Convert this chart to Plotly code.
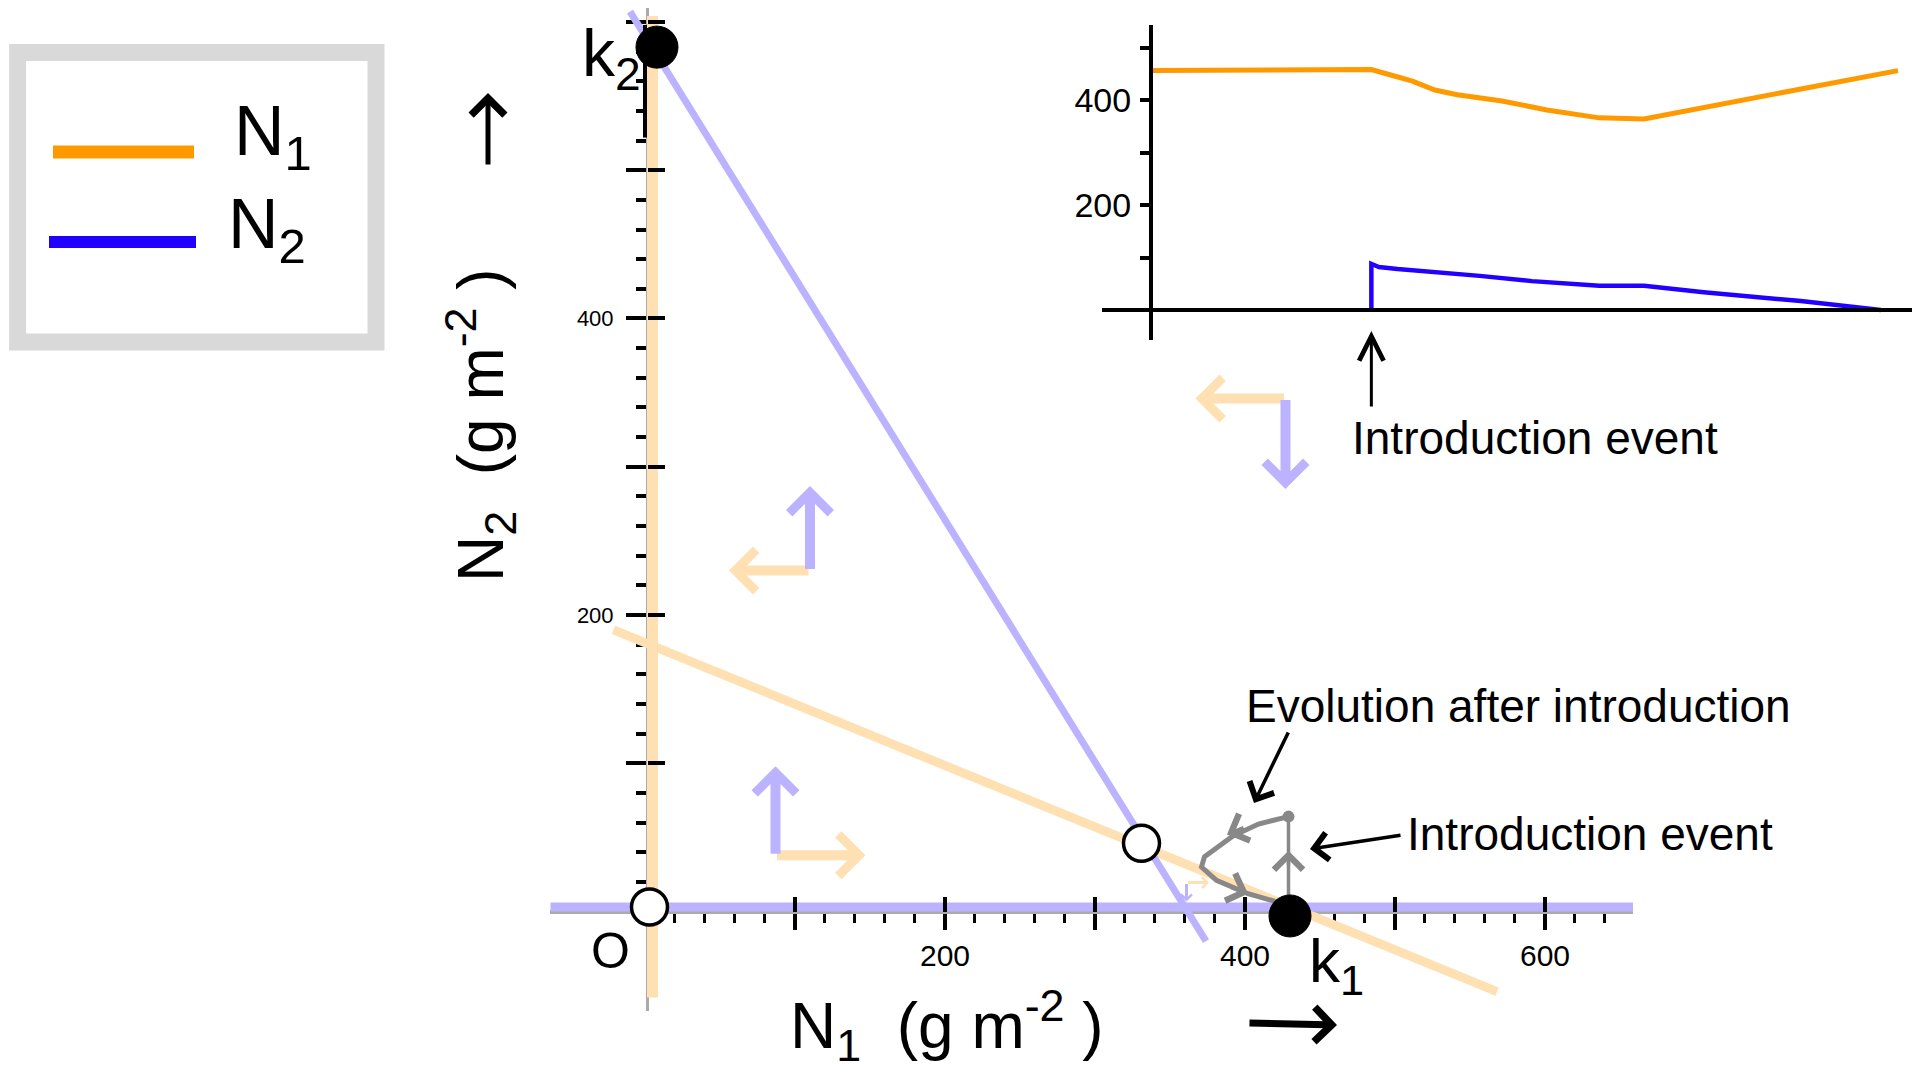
import plotly.graph_objects as go

W, H = 1920, 1080
DX, DY = -6, -5   # global pixel alignment offset

# ---------------- phase-plane data (g m^-2) ----------------
n1_zero_null_x = [5, 5]          # N1 = 0 nullcline (vertical)
n1_zero_null_y = [-58, 604]
n1_null_x = [-21, 568]           # N1 oblique nullcline
n1_null_y = [190, -54]
n2_zero_null_x = [-63, 659]      # N2 = 0 nullcline (horizontal)
n2_zero_null_y = [3, 3]
n2_null_x = [-10, 374]           # N2 oblique nullcline
n2_null_y = [607, -20]

unstable_eq_x = [3, 331]
unstable_eq_y = [3, 46]
stable_eq_x = [430, 8]           # k1, k2
stable_eq_y = [-3, 583]

intro_x = [429, 429]             # introduction event
intro_y = [3, 64]
evo_x = [429, 409, 392, 373, 371, 381, 402, 423]   # evolution after introduction
evo_y = [64, 59, 51, 37, 30, 21, 12, 6]

# direction arrows: corner, N1-direction tip (x), N2-direction tip (y)
dir_x = [110, 87, 427, 361]
dir_y = [230, 38, 346, 19.5]
dir_n1_tip = [56, 147, 367, 376]
dir_n2_tip = [287, 98, 285, 6.7]
dir_width = [10, 10, 10, 3]

# trajectory chevrons (tail -> tip)
chev_x0 = [429, 400, 390]
chev_y0 = [30, 57, 16.5]
chev_x1 = [429, 388, 402]
chev_y1 = [41, 52, 12]

x_major = [100, 200, 300, 400, 500, 600]
x_major_text = ["", "200", "", "400", "", "600"]
x_minor = [v for v in range(20, 661, 20) if v % 100]
y_major = [100, 200, 300, 400, 500, 600]
y_major_text = ["", "200", "", "400", "", ""]
y_minor = [v for v in range(20, 601, 20) if v % 100]

# ---------------- inset time series ----------------
t_n1 = [0, 29.5, 31.5, 35, 38, 41, 47, 53, 60, 66, 100]
n1_series = [456, 458, 450, 436, 419, 410, 398, 381, 366, 364, 456]
t_n2 = [29.5, 29.5, 30.5, 33, 44, 51, 60, 66, 74, 87, 97.7]
n2_series = [0, 88, 82, 78, 65, 55, 46, 46, 34, 17, 0]
t_intro = 29.5
inset_ticks = [100, 200, 300, 400, 500]
inset_tick_text = ["", "200", "", "400", ""]

ORANGE = "#FF9900"
BLUE = "#2200FF"
L_ORANGE = "#FFE0B3"
L_PURPLE = "#BBB3FF"
GRAY_AX = "#AAAAAA"
GRAY_TR = "#888888"
FONT = "Liberation Sans, Arial, sans-serif"


def fx(px):
    return (px + DX) / W


def fy(py):
    return 1 - (py + DY) / H


fig = go.Figure()

common = dict(mode="lines", hoverinfo="skip", showlegend=False)
fig.add_trace(go.Scatter(x=n1_zero_null_x, y=n1_zero_null_y, line=dict(color=L_ORANGE, width=11), **common))
fig.add_trace(go.Scatter(x=n1_null_x, y=n1_null_y, line=dict(color=L_ORANGE, width=9), **common))
fig.add_trace(go.Scatter(x=n2_null_x, y=n2_null_y, line=dict(color=L_PURPLE, width=7), **common))
fig.add_trace(go.Scatter(x=n2_zero_null_x, y=n2_zero_null_y, line=dict(color=L_PURPLE, width=9), **common))
fig.add_trace(go.Scatter(x=intro_x, y=intro_y, line=dict(color=GRAY_TR, width=3.5), **common))
fig.add_trace(go.Scatter(x=evo_x, y=evo_y, line=dict(color=GRAY_TR, width=5), **common))
fig.add_trace(go.Scatter(x=evo_x[:1], y=evo_y[:1], mode="markers", marker=dict(color=GRAY_TR, size=12),
                         hoverinfo="skip", showlegend=False))

# equilibria on overlay subplot (drawn on top)
fig.add_trace(go.Scatter(x=unstable_eq_x, y=unstable_eq_y, mode="markers", xaxis="x3", yaxis="y3",
                         marker=dict(color="white", size=36, line=dict(color="black", width=3.5)),
                         hoverinfo="skip", showlegend=False))
fig.add_trace(go.Scatter(x=stable_eq_x, y=stable_eq_y, mode="markers", xaxis="x3", yaxis="y3",
                         marker=dict(color="black", size=42, line=dict(color="black", width=1)),
                         hoverinfo="skip", showlegend=False))

# inset
fig.add_trace(go.Scatter(x=t_n1, y=n1_series, xaxis="x2", yaxis="y2", mode="lines",
                         line=dict(color=ORANGE, width=5), name="N1", showlegend=False, hoverinfo="skip"))
fig.add_trace(go.Scatter(x=t_n2, y=n2_series, xaxis="x2", yaxis="y2", mode="lines",
                         line=dict(color=BLUE, width=4.5), name="N2", showlegend=False, hoverinfo="skip"))

x_dom = [fx(548), fx(1631)]
x_rng = [-63.33, 658.67]
y_dom = [fy(1008), min(1.0, fy(0))]
y_rng = [-67.11, 609.40]
x_pos = fy(909)
y_pos = fx(645)

ann = []

# direction arrows
for i in range(len(dir_x)):
    w = dir_width[i]
    sz = 0.8 if w > 5 else 0.7
    ann.append(dict(x=dir_n1_tip[i], y=dir_y[i], ax=dir_x[i], ay=dir_y[i], xref="x", yref="y",
                    axref="x", ayref="y", text="", showarrow=True, arrowhead=4, arrowsize=sz,
                    arrowwidth=w, arrowcolor=L_ORANGE, standoff=0))
    ann.append(dict(x=dir_x[i], y=dir_n2_tip[i], ax=dir_x[i], ay=dir_y[i], xref="x", yref="y",
                    axref="x", ayref="y", text="", showarrow=True, arrowhead=4, arrowsize=sz,
                    arrowwidth=w, arrowcolor=L_PURPLE, standoff=0))
for i in range(len(chev_x0)):
    ann.append(dict(x=chev_x1[i], y=chev_y1[i], ax=chev_x0[i], ay=chev_y0[i], xref="x", yref="y",
                    axref="x", ayref="y", text="", showarrow=True, arrowhead=4, arrowsize=1.6,
                    arrowwidth=3.5, arrowcolor=GRAY_TR, standoff=0))

# axis arrows
ann.append(dict(x=fx(486), y=fy(90), ax=0, ay=73, xref="paper", yref="paper", text="", showarrow=True,
                arrowhead=4, arrowsize=1.3, arrowwidth=5, arrowcolor="black", standoff=0))
ann.append(dict(x=fx(1335), y=fy(1022), ax=-89, ay=-2, xref="paper", yref="paper", text="", showarrow=True,
                arrowhead=4, arrowsize=0.95, arrowwidth=7, arrowcolor="black", standoff=0))

# labelled arrows
ann.append(dict(x=fx(1308), y=fy(846), ax=92, ay=-14, xref="paper", yref="paper", text="", showarrow=True,
                arrowhead=4, arrowsize=1.5, arrowwidth=3.5, arrowcolor="black", standoff=0))
ann.append(dict(x=fx(1252), y=fy(800), ax=35, ay=-72, xref="paper", yref="paper", text="", showarrow=True,
                arrowhead=4, arrowsize=1.5, arrowwidth=3.5, arrowcolor="black", standoff=0))
ann.append(dict(x=t_intro, y=fy(328), ax=0, ay=77, xref="x2", yref="paper", text="", showarrow=True,
                arrowhead=5, arrowsize=1.6, arrowwidth=3, arrowcolor="black", standoff=0))


# texts
def txt(text, px, py, size, xanchor="left", angle=0, yanchor="middle"):
    ann.append(dict(x=fx(px), y=fy(py), xref="paper", yref="paper", text=text, showarrow=False,
                    xanchor=xanchor, yanchor=yanchor, textangle=angle,
                    font=dict(family=FONT, size=size, color="black")))


txt("Evolution after introduction", 1242, 703, 46)
txt("Introduction event", 1403, 831, 46)
txt("Introduction event", 1348, 435, 46)
txt("N<sub>1</sub>", 230, 133, 70)
txt("N<sub>2</sub>", 224, 226, 70)
txt("k<sub>2</sub>", 578, 55, 66)
txt("k<sub>1</sub>", 1305, 962, 62)
txt("O", 608, 948, 50, xanchor="center")
txt("N<sub>1</sub>  (g m<sup>-2</sup> )", 945, 1022, 64, xanchor="center")
txt("N<sub>2</sub>  (g m<sup>-2</sup> )", 478, 422, 64, xanchor="center", angle=-90)

shapes = [
    dict(type="rect", xref="paper", yref="paper", x0=fx(15.6), x1=fx(374), y0=fy(339), y1=fy(49.5),
         line=dict(color="#D9D9D9", width=17)),
    dict(type="line", xref="paper", yref="paper", x0=fx(51), x1=fx(192), y0=fy(149), y1=fy(149),
         line=dict(color=ORANGE, width=13)),
    dict(type="line", xref="paper", yref="paper", x0=fx(47), x1=fx(194), y0=fy(239), y1=fy(239),
         line=dict(color=BLUE, width=12)),
    dict(type="line", xref="x", yref="y", x0=0, x1=0, y0=522, y1=598, line=dict(color="black", width=4)),
]

fig.update_layout(
    width=W, height=H, margin=dict(l=0, r=0, t=0, b=0),
    paper_bgcolor="white", plot_bgcolor="rgba(0,0,0,0)",
    showlegend=False,
    xaxis=dict(domain=x_dom, range=x_rng, anchor="free", position=x_pos, showline=True,
               linecolor=GRAY_AX, linewidth=4, ticks="outside", tickmode="array", tickvals=x_major,
               ticktext=x_major_text, ticklen=16, tickwidth=4, tickcolor="black",
               tickfont=dict(family=FONT, size=30, color="black"), ticklabelstandoff=0,
               minor=dict(tickmode="array", tickvals=x_minor, ticks="outside", ticklen=9, tickwidth=3,
                          tickcolor="black", showgrid=False),
               showgrid=False, zeroline=False, layer="below traces", fixedrange=True),
    yaxis=dict(domain=y_dom, range=y_rng, anchor="free", position=y_pos, showline=True,
               linecolor=GRAY_AX, linewidth=3, ticks="outside", tickmode="array", tickvals=y_major,
               ticktext=y_major_text, ticklen=20, tickwidth=4, tickcolor="black",
               tickfont=dict(family=FONT, size=22, color="black"), ticklabelstandoff=8,
               minor=dict(tickmode="array", tickvals=y_minor, ticks="outside", ticklen=10, tickwidth=3.5,
                          tickcolor="black", showgrid=False),
               showgrid=False, zeroline=False, layer="below traces", fixedrange=True),
    xaxis3=dict(domain=x_dom, range=x_rng, anchor="free", position=x_pos, overlaying="x",
                showline=False, ticks="inside", tickmode="array", tickvals=x_major, ticklen=15,
                tickwidth=4, tickcolor="black", showticklabels=False, showgrid=False, zeroline=False,
                layer="above traces", fixedrange=True),
    yaxis3=dict(domain=y_dom, range=y_rng, anchor="free", position=y_pos, overlaying="y",
                showline=False, ticks="inside", tickmode="array", tickvals=y_major, ticklen=17,
                tickwidth=4, tickcolor="black", showticklabels=False, showgrid=False, zeroline=False,
                layer="above traces", fixedrange=True),
    xaxis2=dict(domain=[fx(1100), fx(1911)], range=[-6.56, 102.01], anchor="free", position=fy(307),
                showline=True, linecolor="black", linewidth=4, ticks="", showticklabels=False,
                showgrid=False, zeroline=False, fixedrange=True),
    yaxis2=dict(domain=[fy(337), fy(22)], range=[-57.14, 542.86], anchor="free", position=fx(1149),
                showline=True, linecolor="black", linewidth=4, ticks="outside", tickmode="array",
                tickvals=inset_ticks, ticktext=inset_tick_text, ticklen=9, tickwidth=4, tickcolor="black",
                tickfont=dict(family=FONT, size=34, color="black"), ticklabelstandoff=2,
                showgrid=False, zeroline=False, fixedrange=True),
    annotations=ann,
    shapes=shapes,
)

fig.write_html("out.html")
